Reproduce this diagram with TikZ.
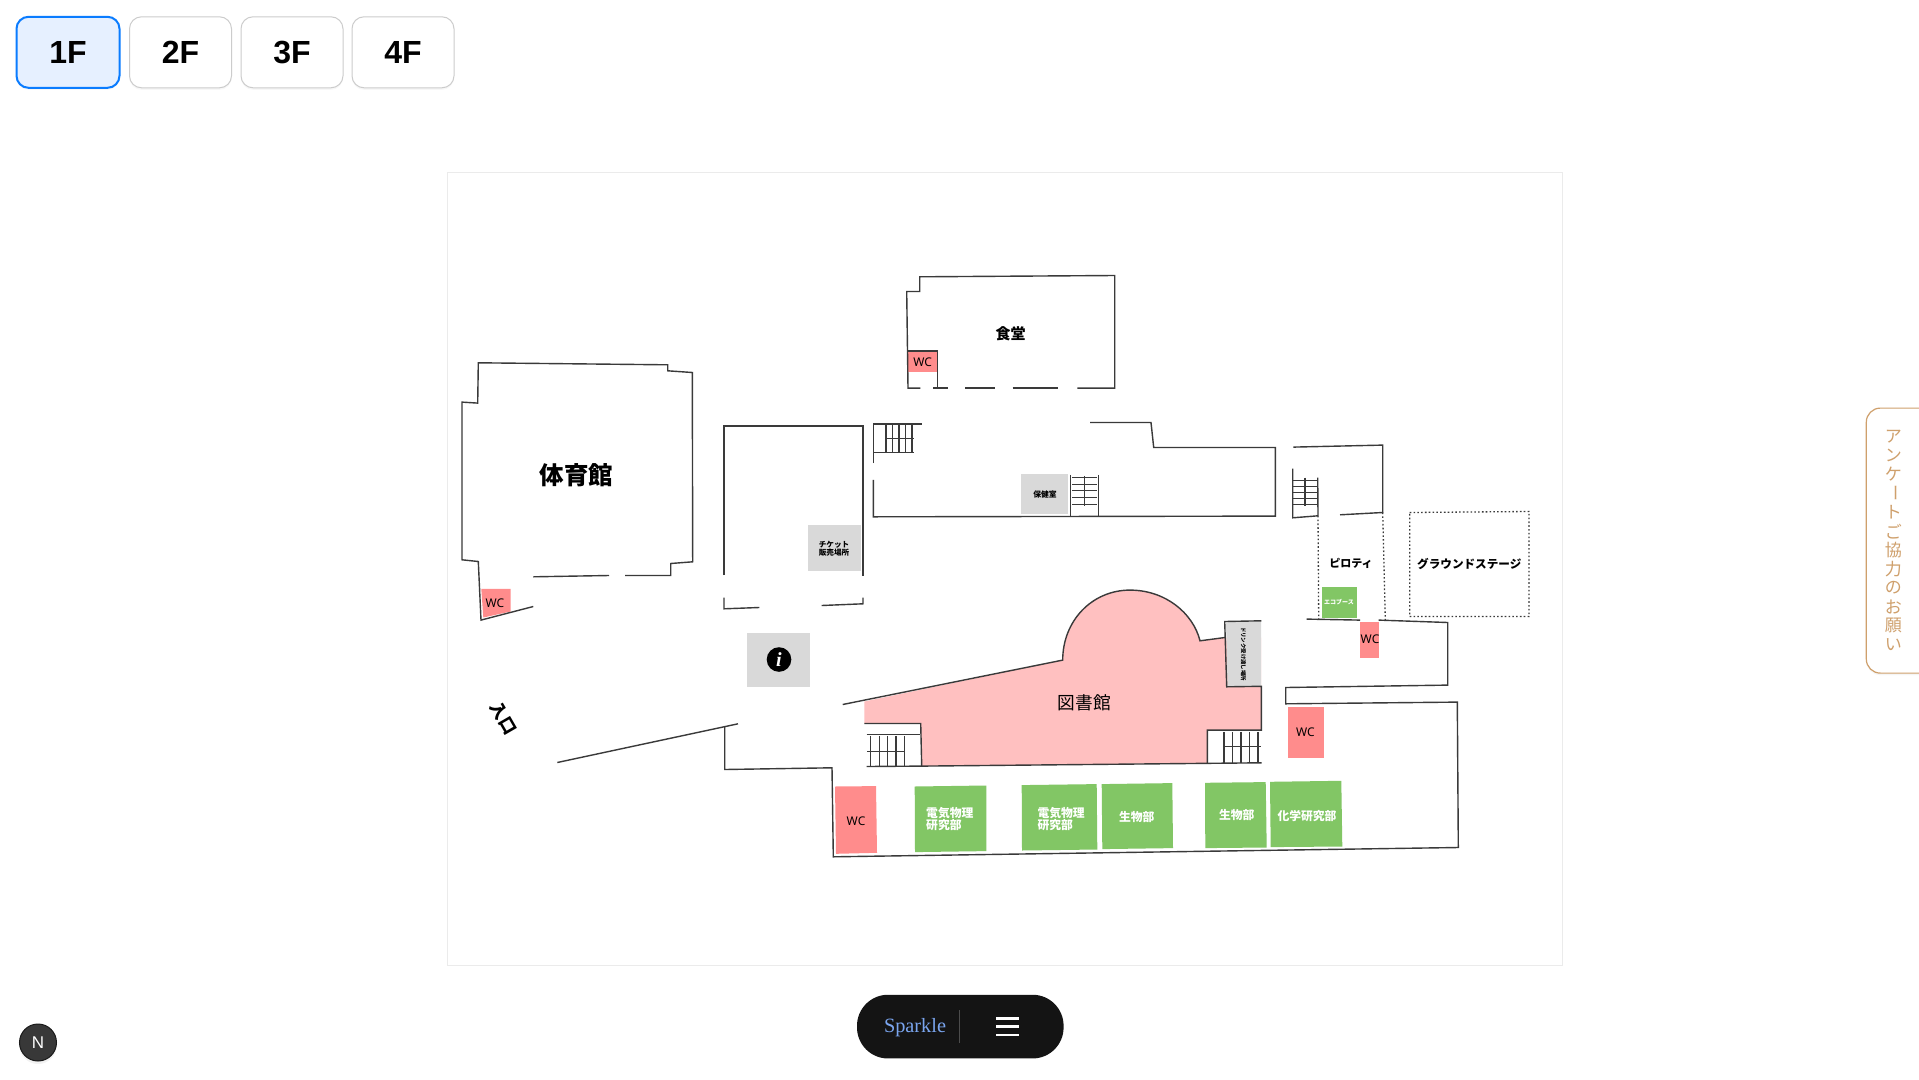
\documentclass[tikz,border=0pt]{standalone}
\usepackage{fontspec}
\setmainfont{Noto Sans CJK JP}
\newfontfamily\btnfont{Liberation Sans}
\newfontfamily\wcfont{Noto Sans}
\newfontfamily\pillfont{Liberation Serif}
\usetikzlibrary{shadows}
\newcommand{\pxsize}[1]{\fontsize{#1}{#1}\selectfont}
\definecolor{wallcol}{HTML}{3A3A3A}
\definecolor{wcpink}{HTML}{FF8C8C}
\definecolor{libpink}{HTML}{FFC0C0}
\definecolor{roomgreen}{HTML}{82C665}
\definecolor{roomgray}{HTML}{D9D9D9}
\definecolor{tabcol}{HTML}{CFA06C}
\definecolor{activeblue}{HTML}{0A7CFF}
\definecolor{activefill}{HTML}{E6F0FF}
\definecolor{sparkleblue}{HTML}{7AA5EF}
\tikzset{
    floorbtn/.style={rectangle, draw=black!20, line width=1pt, fill=white, rounded corners=12pt, inner sep=0pt, minimum width=102pt, minimum height=71pt, font=\btnfont\bfseries\pxsize{32}, drop shadow={opacity=0.06, shadow xshift=0pt, shadow yshift=-2pt}},
    wall/.style={draw=wallcol, line width=1.4pt},
    stair/.style={draw=wallcol, line width=1.2pt},
    dotwall/.style={draw=wallcol, line width=1.3pt, dash pattern=on 1.6pt off 2.2pt},
    wclabel/.style={font=\wcfont\bfseries\pxsize{#1}, inner sep=0pt},
    wclabel/.default=12,
    greenlabel/.style={font=\bfseries\pxsize{11.8}, text=white, inner sep=0pt, align=left},
    blacklabel/.style={font=\bfseries\pxsize{#1}, inner sep=0pt, align=center}
}
\begin{document}
\begin{tikzpicture}[x=1pt, y=-1pt]
    \useasboundingbox (0,-0.8) rectangle (1919,1078.2);
    \fill[white] (0,-0.8) rectangle (1919,1078.2);

    % Floor buttons
    \node[floorbtn, minimum width=103pt, draw=activeblue, line width=2pt, fill=activefill] (btnA) at (68,51.5) {1F};
    \node[floorbtn] (btnB) at (180.5,51.5) {2F};
    \node[floorbtn] (btnC) at (292,51.5) {3F};
    \node[floorbtn] (btnD) at (403,51.5) {4F};

    % Map card
    \draw[black!8, line width=1pt] (447,171.5) rectangle (1562,965);

    % Filled rooms
    \fill[libpink] (864.3,700.7) -- (1062.7,659.3) .. controls (1062.7,620) and (1092,589.3) .. (1130,589.3) .. controls (1165,589.3) and (1193,612) .. (1200,640) -- (1225,636.7) -- (1261,636.7) -- (1261,729.3) -- (1207.3,729.3) -- (1207.3,762) -- (921.7,765.3) -- (920.7,722.7) -- (864.3,722.7) -- cycle;
    \fill[roomgray] (1226,621.5) -- (1261,620.5) -- (1261,685) -- (1227.5,685.5) -- cycle;
    \fill[wcpink] (481.3,588) -- (510.7,588) -- (510.7,610.7) -- (483.3,616.7) -- cycle;
    \fill[wcpink] (908.3,350.7) rectangle (937.3,371);
    \fill[wcpink] (1360.3,620.7) rectangle (1378.7,657.3);
    \fill[wcpink] (1287.7,706) rectangle (1323.7,757);
    \fill[wcpink] (835,785.7) -- (876,785.3) -- (877,852) -- (836,853) -- cycle;
    \fill[roomgray] (807.7,524) rectangle (860.7,570);
    \fill[roomgray] (1021,473.3) rectangle (1068,513.3);
    \fill[roomgray] (747,632.3) rectangle (810,685.7);
    \fill[roomgreen] (1322,586) rectangle (1357,616.7);
    \fill[roomgreen] (914.7,785.7) -- (986.3,784.7) -- (986.3,850.3) -- (915,851.3) -- cycle;
    \fill[roomgreen] (1021.7,784.3) -- (1096.7,783.3) -- (1097.3,848.7) -- (1022,849.7) -- cycle;
    \fill[roomgreen] (1101.7,783.3) -- (1172.3,782.3) -- (1173,847.3) -- (1102.3,848.3) -- cycle;
    \fill[roomgreen] (1205,782) -- (1265.7,781.3) -- (1266.7,846.7) -- (1205.3,847.3) -- cycle;
    \fill[roomgreen] (1270,781) -- (1341.3,780) -- (1342.3,845.7) -- (1270.7,846.3) -- cycle;

    % Gym
    \draw[wall] (625,574.7) -- (670.7,574.7) -- (670.7,562.7) -- (692.7,561) -- (692.3,371.7) -- (667.7,370) -- (667.7,364) -- (478.3,362) -- (477.7,402.3) -- (462,401.3) -- (462,559) -- (478.3,560.7) -- (481,619.3) -- (533.3,605.7);
    \draw[wall] (609,574.7) -- (533.3,576);

    % Middle hall
    \draw[wall] (724,574.3) -- (724,425) -- (863,425) -- (863,575);
    \draw[wall] (724,596.7) -- (724,608) -- (759.3,606.7);
    \draw[wall] (821.7,604.7) -- (863,603) -- (863,596.7);

    % Cafeteria
    \draw[wall] (920.3,387.3) -- (908,387.3) -- (906.7,290.7) -- (919.7,290.7) -- (919.7,276) -- (1114.7,274.7) -- (1114.7,387.3) -- (1077.3,387.3);
    \draw[wall] (908,350) -- (937.7,350) -- (937.7,387.3);
    \draw[wall] (933.3,387.3) -- (947.7,387.3);
    \draw[wall] (965,387.3) -- (995,387.3);
    \draw[wall] (1012.7,387.3) -- (1058.3,387.3);

    % Upper block
    \draw[wall] (873.3,462.3) -- (873.3,423.3) -- (922.3,423.3);
    \draw[wall] (873.3,479) -- (873.3,516) -- (1275.3,515.3) -- (1275.3,446.7) -- (1153.7,446.7) -- (1151,421.7) -- (1090,421.7);
    \draw[stair] (873.3,451.7) -- (914,451.7);
    \draw[stair] (885,437.7) -- (914,437.7);
    \foreach \sx in {886,892.3,899,905.3,912}
        \draw[stair] (\sx,423.3) -- (\sx,450.7);
    \draw[wall] (1070.7,474) -- (1070.7,516);
    \draw[wall] (1098.3,474) -- (1098.3,516);
    \draw[stair] (1084.3,475) -- (1084.3,505);
    \foreach \sy in {476.7,483.3,490,496.7,503.3}
        \draw[stair] (1072,\sy) -- (1097.3,\sy);

    % Pilotis
    \draw[wall] (1293.3,446.3) -- (1382.7,444.3) -- (1382.7,511.7) -- (1340,514);
    \draw[wall] (1292.7,467.7) -- (1292.7,517) -- (1318,515) -- (1317.7,476.7);
    \draw[stair] (1305,476.7) -- (1305,505);
    \foreach \sy in {479.3,485.7,491.7,498,504}
        \draw[stair] (1293.3,\sy) -- (1316.7,\sy);
    \draw[dotwall] (1318,515) -- (1318.7,618.3);
    \draw[dotwall] (1382.7,511.7) -- (1385.3,619.3);
    \draw[dotwall] (1409.7,511.7) -- (1529,510.7) -- (1529,615.7) -- (1409.7,615.7) -- cycle;

    % Library
    \draw[wall] (842.7,703.7) -- (1062.7,659.3) .. controls (1062.7,620) and (1092,589.3) .. (1130,589.3) .. controls (1165,589.3) and (1193,612) .. (1200,640) -- (1225,636.7);
    \draw[wall] (1261.3,620) -- (1224.7,620.7) -- (1226.7,686) -- (1261.3,685.5) -- (1261.3,729.3) -- (1207.3,729.3) -- (1207.3,762);
    \draw[wall] (864.3,722.7) -- (920.7,722.7) -- (921.7,765.3);
    \draw[wall] (866.7,765.7) -- (921.7,765.3) -- (1261.7,762);
    \draw[stair] (866.7,734) -- (920,734);
    \draw[stair] (867,750.7) -- (905,750.7);
    \foreach \sx in {870.7,879.3,887.7,896,904.3}
        \draw[stair] (\sx,735) -- (\sx,765.7);
    \draw[stair] (1223.3,745.7) -- (1261,745.7);
    \foreach \sx in {1224,1232.3,1241,1249.3,1258}
        \draw[stair] (\sx,731) -- (\sx,762);

    % Right wing and lab corridor
    \draw[wall] (1306.7,618.3) -- (1360,619.3);
    \draw[wall] (1378.7,619.3) -- (1447.7,621.7) -- (1447.7,684.3) -- (1285.7,686.7) -- (1285.7,703) -- (1457.3,701.3) -- (1458.3,846.7) -- (833.3,856) -- (832,767) -- (724.7,768.7) -- (724.7,725.3);
    \draw[wall] (557.3,761.7) -- (738,723);

    % Info mark
    \fill[black] (779,658.7) circle (12.3);
    \node[font=\pillfont\bfseries\itshape\pxsize{20}, text=white, inner sep=0pt] (infomark) at (779,658.7) {i};

    % Labels
    \node[blacklabel=24.5] (gym) at (576.7,474) {体育館};
    \node[blacklabel=15] (cafeteria) at (1010.7,332.7) {食堂};
    \node[blacklabel=7.6] (ticket) at (834,548) {チケット\\[0.4pt]販売場所};
    \node[blacklabel=7.8] (clinic) at (1045,493.7) {保健室};
    \node[blacklabel=11] (pilotis) at (1351,562.7) {ピロティ};
    \node[blacklabel=11.6] (stage) at (1469.3,563.3) {グラウンドステージ};
    \node[blacklabel=5.4, rotate=-90] (drink) at (1243.3,653.3) {ドリンク受け渡し場所};
    \node[font=\pxsize{17.7}, inner sep=0pt] (library) at (1084.3,702.3) {図書館};
    \node[blacklabel=17, rotate=-60] (entrance) at (503.3,717.7) {入口};
    \node[greenlabel, font=\bfseries\pxsize{6}] (eco) at (1339,601) {エコブース};
    \node[greenlabel, anchor=west] (labA) at (926,818) {電気物理\\研究部};
    \node[greenlabel, anchor=west] (labB) at (1037.3,818) {電気物理\\研究部};
    \node[greenlabel] (bioA) at (1136.7,816) {生物部};
    \node[greenlabel] (bioB) at (1236.7,814.7) {生物部};
    \node[greenlabel] (chem) at (1307,815.3) {化学研究部};
    \node[wclabel] (wcA) at (495,602.7) {WC};
    \node[wclabel] (wcB) at (922.7,361.3) {WC};
    \node[wclabel] (wcC) at (1370,638.7) {WC};
    \node[wclabel] (wcD) at (1305.3,731) {WC};
    \node[wclabel] (wcE) at (856,820) {WC};

    % Survey tab
    \draw[tabcol, line width=1.2pt, fill=white, rounded corners=14pt, drop shadow={opacity=0.08, shadow xshift=0pt, shadow yshift=-2pt}] (1935,407.3) -- (1866.3,407.3) -- (1866.3,672.3) -- (1935,672.3);
    \foreach \ch/\turn [count=\i from 0] in {ア/0,ン/0,ケ/0,ー/-90,ト/0,ご/0,協/0,力/0,の/0,お/0,願/0,い/0}
        \node[font=\pxsize{17}, text=tabcol, inner sep=0pt, rotate=\turn] (tab\i) at (1893.3,435.7+\i*18.94) {\ch};

    % Sparkle pill
    \node[rectangle, fill=black!92, rounded corners=31pt, inner sep=0pt, minimum width=206.6pt, minimum height=63.7pt] (pill) at (960.3,1025.8) {};
    \node[font=\pillfont\pxsize{20.3}, text=sparkleblue, inner sep=0pt] (sparkle) at (915,1026.5) {Sparkle};
    \draw[black!70, line width=0.8pt] (959,1009) -- (959,1041.7);
    \foreach \my in {1017.7,1025.7,1034}
        \draw[white, line width=2.6pt] (996,\my) -- (1018.7,\my);

    % Dev badge
    \node[circle, fill=black!78, draw=black!90, line width=1pt, minimum size=37pt, inner sep=0pt, font=\btnfont\pxsize{17}, text=white, drop shadow={opacity=0.1, shadow xshift=0pt, shadow yshift=-3pt}] (badge) at (38,1041.7) {N};
\end{tikzpicture}
\end{document}
